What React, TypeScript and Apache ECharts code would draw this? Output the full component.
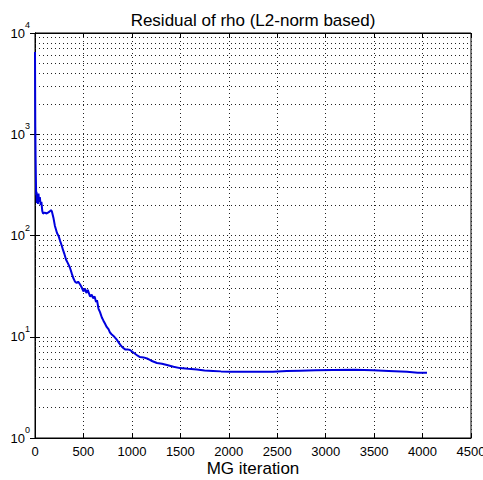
import React, { useEffect, useRef } from "react";
import * as echarts from "echarts";

const titleText = "Residual of rho (L2-norm based)";
const xAxisName = "MG iteration";
const xTicks = [0, 500, 1000, 1500, 2000, 2500, 3000, 3500, 4000, 4500];
const yMajorTicks = [1, 10, 100, 1000, 10000];
const minorMultipliers = [2, 3, 4, 5, 6, 7, 8, 9];
const minorDecades = [1, 10, 100, 1000];

const iterations = [
  0, 3, 6, 9, 12, 16, 20, 25, 30, 36, 42, 50, 58, 66, 75, 83, 100, 120, 134, 150,
  165, 175, 190, 205, 227, 245, 260, 275, 289, 305, 320, 340, 361, 380, 395, 413,
  430, 445, 464, 480, 500, 516, 530, 545, 568, 585, 599, 615, 630, 640, 655, 671,
  690, 705, 722, 740, 760, 774, 790, 810, 826, 846, 870, 890, 908, 930, 955, 980,
  1005, 1032, 1060, 1084, 1120, 1156, 1200, 1259, 1310, 1362, 1430, 1496, 1580,
  1672, 1750, 1837, 1920, 2012, 2200, 2456, 2600, 2735, 2900, 3075, 3300, 3488,
  3650, 3839, 3950, 4046,
];
const residuals = [
  6500, 1200, 600, 380, 250, 270, 210, 250, 205, 260, 215, 240, 200, 215, 175, 165,
  168, 165, 168, 172, 178, 172, 150, 125, 106, 98, 88, 80, 72, 65, 58, 53, 48, 42,
  38, 35, 34, 35, 33, 31, 28, 30, 27, 29, 25, 26, 24, 25, 22, 23, 19, 17.5, 15.5,
  14.5, 13.5, 12.5, 11.8, 11.0, 10.6, 10.2, 9.8, 9.3, 8.6, 8.1, 7.8, 7.5, 7.5, 7.4,
  7.1, 6.8, 6.5, 6.3, 6.25, 6.1, 5.8, 5.5, 5.4, 5.25, 5.05, 4.9, 4.82, 4.75, 4.65,
  4.6, 4.55, 4.52, 4.5, 4.52, 4.58, 4.62, 4.66, 4.7, 4.72, 4.68, 4.6, 4.5, 4.42, 4.4,
];

const FONT = "'Liberation Sans', Arial, Helvetica, sans-serif";

export default function App() {
  const ref = useRef<HTMLDivElement>(null);
  useEffect(() => {
    if (!ref.current) return;
    const chart = echarts.init(ref.current, null, { renderer: "svg" });
    const data = iterations.map((x, i) => [x, residuals[i]]);
    const minorLines: { yAxis: number }[] = [];
    minorDecades.forEach((d) =>
      minorMultipliers.forEach((m) => minorLines.push({ yAxis: d * m }))
    );
    const gridStyle = { color: "#222", width: 1, type: [1, 3] as any };
    chart.setOption({
      animation: false,
      backgroundColor: "#fff",
      grid: {
        left: 35,
        right: 12,
        top: 33,
        bottom: 42,
        containLabel: false,
        outerBoundsMode: "none",
        show: true,
        borderColor: "#000",
        borderWidth: 1,
        backgroundColor: "#fff",
      },
      graphic: [
        {
          type: "text",
          x: 253,
          y: 20,
          style: {
            text: titleText,
            font: `17px ${FONT}`,
            fill: "#000",
            textAlign: "center",
            textVerticalAlign: "middle",
          },
        },
        {
          type: "text",
          x: 253,
          y: 468,
          style: {
            text: xAxisName,
            font: `17px ${FONT}`,
            fill: "#000",
            textAlign: "center",
            textVerticalAlign: "middle",
          },
        },
      ],
      xAxis: [
        {
          type: "value",
          min: xTicks[0],
          max: xTicks[xTicks.length - 1],
          interval: 500,
          axisLine: { show: true, lineStyle: { color: "#000" } },
          axisTick: { show: true, inside: true, length: 5, lineStyle: { color: "#000" } },
          axisLabel: {
            fontSize: 13,
            fontFamily: FONT,
            color: "#000",
            margin: 7,
            formatter: (v: number) => String(v),
          },
          splitLine: { show: true, lineStyle: gridStyle },
        },
        {
          type: "value",
          position: "top",
          min: xTicks[0],
          max: xTicks[xTicks.length - 1],
          interval: 500,
          axisLine: { show: true, lineStyle: { color: "#000" } },
          axisTick: { show: true, inside: true, length: 5, lineStyle: { color: "#000" } },
          axisLabel: { show: false },
          splitLine: { show: false },
        },
      ],
      yAxis: [
        {
          type: "log",
          logBase: 10,
          min: yMajorTicks[0],
          max: yMajorTicks[yMajorTicks.length - 1],
          axisLine: { show: true, lineStyle: { color: "#000" } },
          axisTick: { show: true, inside: true, length: 5, lineStyle: { color: "#000" } },
          axisLabel: {
            margin: 5,
            color: "#000",
            formatter: (v: number) => `{b|10}{s|${Math.round(Math.log10(v))}}`,
            rich: {
              b: { fontSize: 13, fontFamily: FONT, color: "#000" },
              s: {
                fontSize: 9,
                fontFamily: FONT,
                color: "#000",
                verticalAlign: "bottom",
                padding: [0, 0, 16, 0],
              },
            },
          },
          splitLine: { show: true, lineStyle: gridStyle },
          minorTick: { show: false },
        },
        {
          type: "log",
          logBase: 10,
          position: "right",
          min: yMajorTicks[0],
          max: yMajorTicks[yMajorTicks.length - 1],
          axisLine: { show: true, lineStyle: { color: "#000" } },
          axisTick: { show: true, inside: true, length: 5, lineStyle: { color: "#000" } },
          axisLabel: { show: false },
          splitLine: { show: false },
        },
      ],
      series: [
        {
          type: "line",
          data,
          xAxisIndex: 0,
          yAxisIndex: 0,
          showSymbol: false,
          symbol: "none",
          lineStyle: { color: "#0000dd", width: 2 },
          z: 5,
          markLine: {
            silent: true,
            symbol: ["none", "none"],
            label: { show: false },
            lineStyle: { color: "#222", width: 1, type: [1, 3] as any },
            data: minorLines,
            z: 1,
          },
        },
      ],
    });
    return () => chart.dispose();
  }, []);
  return (
    <div
      ref={ref}
      style={{ position: "fixed", left: 0, top: 0, width: 483, height: 480 }}
    />
  );
}
